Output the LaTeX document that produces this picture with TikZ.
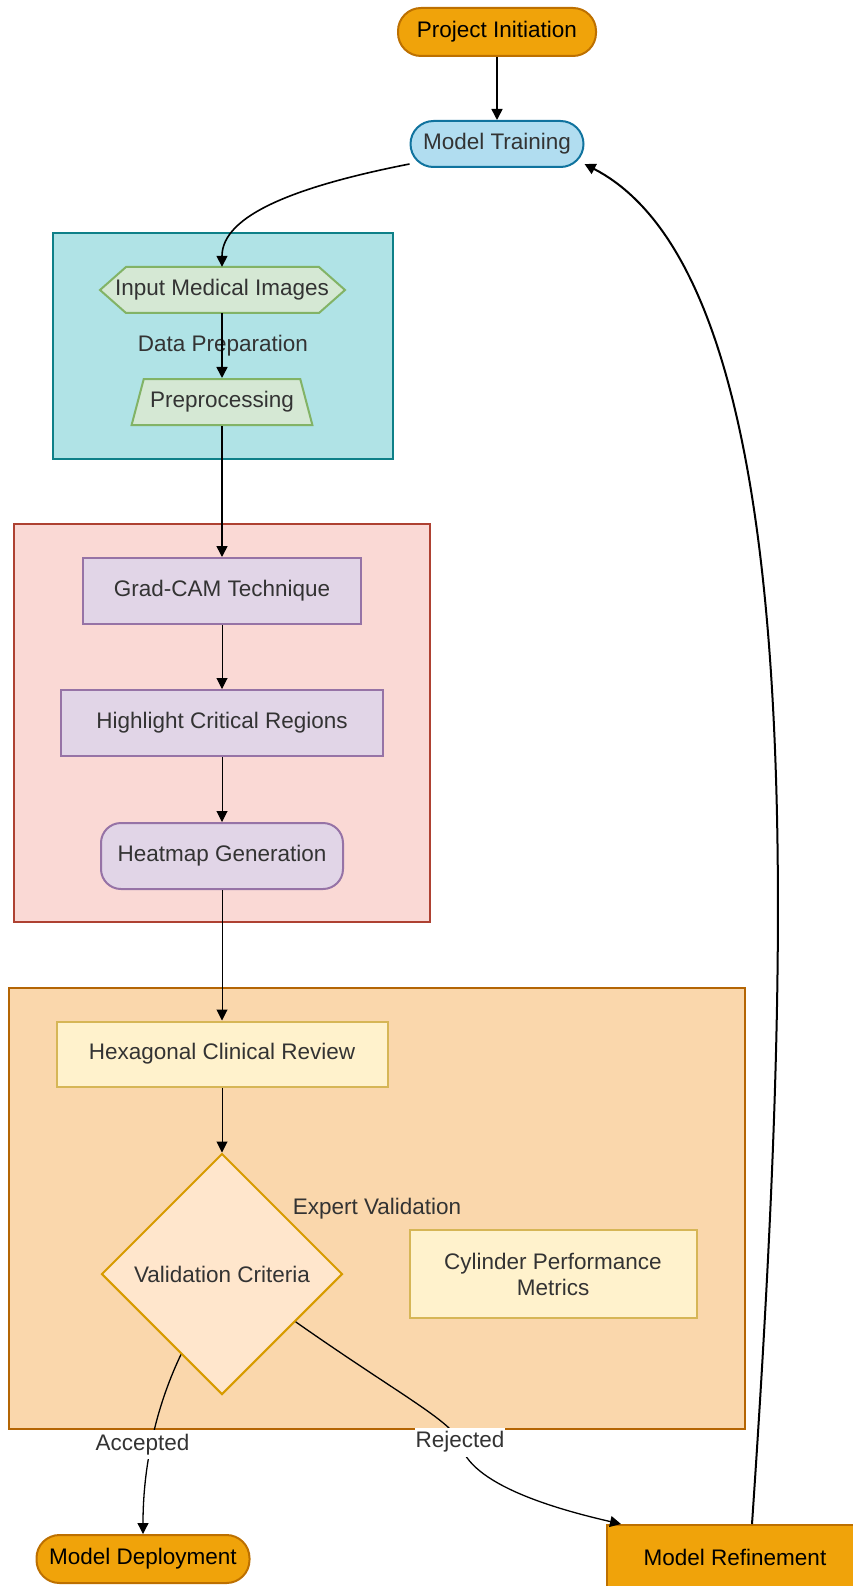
\documentclass[tikz,border=0pt]{standalone}
\usepackage{fontspec}
\setmainfont{Liberation Sans}
\usetikzlibrary{shapes.geometric,arrows.meta}

\definecolor{txt}{HTML}{333333}
\definecolor{termfill}{HTML}{F0A30A}
\definecolor{termline}{HTML}{BD7000}
\definecolor{mtfill}{HTML}{B1DDF0}
\definecolor{mtline}{HTML}{10739E}
\definecolor{dpfill}{HTML}{B0E3E6}
\definecolor{dpline}{HTML}{0E8088}
\definecolor{grfill}{HTML}{D5E8D4}
\definecolor{grline}{HTML}{82B366}
\definecolor{redfill}{HTML}{FAD9D5}
\definecolor{redline}{HTML}{AE4132}
\definecolor{pufill}{HTML}{E1D5E7}
\definecolor{puline}{HTML}{9673A6}
\definecolor{orfill}{HTML}{FAD7AC}
\definecolor{orline}{HTML}{B46504}
\definecolor{yefill}{HTML}{FFF2CC}
\definecolor{yeline}{HTML}{D6B656}
\definecolor{difill}{HTML}{FFE6CC}
\definecolor{diline}{HTML}{D79B00}

\begin{document}
\begin{tikzpicture}[x=1pt,y=-1pt,font=\fontsize{22.5}{26}\selectfont,text=txt]

\tikzstyle{grp} = [draw, line width=2.5pt, inner sep=0]
\tikzstyle{v} = [draw, line width=2pt, inner sep=0, align=center]
\tikzstyle{term} = [v, rounded corners=23pt, fill=termfill, draw=termline, text=black]
\tikzstyle{e} = [-{Triangle[length=11pt,width=11pt]}, line width=1pt]
\tikzstyle{lbl} = [fill=white, inner xsep=1pt, inner ysep=4pt]

\useasboundingbox (0,0) rectangle (852,1586);

% groups
\node[grp, fill=dpfill, draw=dpline, minimum width=340, minimum height=226](dp)at(223,346){Data Preparation};
\node[grp, fill=redfill, draw=redline, line width=2pt, minimum width=416, minimum height=398](xai)at(222,723){};
\node[grp, fill=orfill, draw=orline, minimum width=736, minimum height=441](ev)at(377,1208.5){Expert Validation};

\node[term, minimum width=198, minimum height=48](pi)at(497,32){Project Initiation};
\node[v, rounded corners=23pt, fill=mtfill, draw=mtline, minimum width=173, minimum height=46](mt)at(497,144){Model Training};

\filldraw[fill=grfill, draw=grline, line width=2pt] (100,290) -- (126,267) -- (319,267) -- (345,290) -- (319,313) -- (126,313) -- cycle;
\node[inner sep=0, minimum width=245, minimum height=46](inp)at(222,290){Input Medical Images};
\node[v, trapezium, trapezium stretches=true, trapezium left angle=62, trapezium right angle=62, fill=grfill, draw=grline, minimum width=181, minimum height=46](pre)at(222,402){Preprocessing};

\node[v, fill=pufill, draw=puline, minimum width=278, minimum height=66](gc)at(222,591){Grad-CAM Technique};
\node[v, fill=pufill, draw=puline, minimum width=322, minimum height=66](hl)at(222,723){Highlight Critical Regions};
\node[v, rounded corners=20pt, fill=pufill, draw=puline, minimum width=242, minimum height=66](hm)at(222,856){Heatmap Generation};

\node[v, fill=yefill, draw=yeline, minimum width=331, minimum height=65](hcr)at(222,1054){Hexagonal Clinical Review};
\node[v, diamond, aspect=1, fill=difill, draw=diline, minimum width=241, minimum height=241](vc)at(222,1274){Validation Criteria};
\node[v, fill=yefill, draw=yeline, minimum width=287, minimum height=88](cpm)at(553,1274){Cylinder Performance\\Metrics};

\node[term, minimum width=213, minimum height=48](md)at(143,1559){Model Deployment};
\node[v, fill=termfill, draw=termline, text=black, minimum width=256, minimum height=64](mr)at(735,1557){Model Refinement};

\draw[e, line width=1.6pt](pi) -- (mt);
\draw[e, line width=1.6pt]([yshift=4pt]mt.south west) .. controls +(-112,22) and +(0,-52) .. (inp.north);
\draw[e, line width=1.6pt](inp) -- (pre);
\draw[e, line width=1.6pt](pre) -- (gc);
\draw[e](gc) -- (hl);
\draw[e](hl) -- (hm);
\draw[e](hm) -- (hcr);
\draw[e](hcr) -- (vc);
\draw[e, line width=1.3pt](vc.243) .. controls +(-22,46) and +(0,-75) .. (md.north) node[lbl, pos=0.56, xshift=-9pt]{Accepted};
\draw[e, line width=1.3pt](vc.-33) .. controls (400,1395) and (450,1420) .. (460,1442) node[lbl]{Rejected} .. controls (468,1485) and (560,1510) .. ([xshift=15pt]mr.north west);
\draw[e, line width=2pt]([xshift=17pt]mr.north) .. controls +(39,-575) and +(232,120) .. ([yshift=4pt]mt.south east);

\end{tikzpicture}
\end{document}
